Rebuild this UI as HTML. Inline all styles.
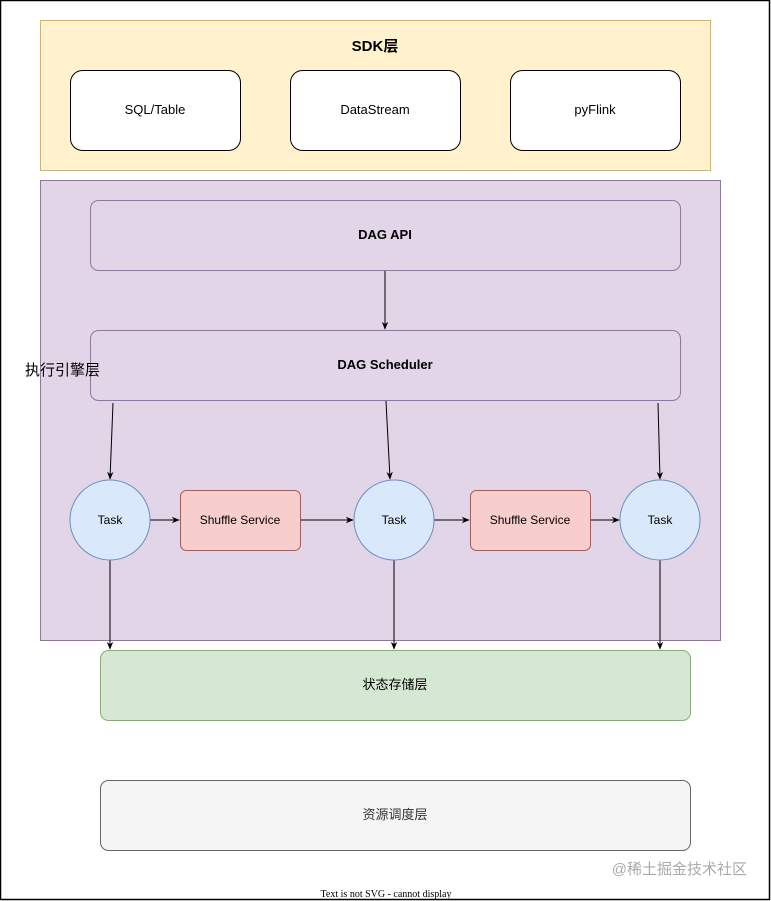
<!DOCTYPE html>
<html><head><style>body{margin:0;background:#fff}svg{display:block}text{font-family:"Liberation Sans","Noto Sans CJK SC",sans-serif}</style></head><body>
<svg width="771" height="901" viewBox="0 0 771 901" xmlns="http://www.w3.org/2000/svg">
<defs><marker id="a" viewBox="0 0 10 10" refX="9" refY="5" markerWidth="8" markerHeight="8" orient="auto"><path d="M0,1 L10,5 L0,9 L3,5z" fill="#000"/></marker></defs>
<rect x="0.5" y="0.5" width="769" height="899" fill="#fff" stroke="#000" stroke-width="1.5"/>
<rect x="40.5" y="20.5" width="670" height="150" fill="#fff2cc" stroke="#d6b656"/>
<text x="375" y="51" font-size="15" font-weight="bold" text-anchor="middle">SDK层</text>
<g fill="#fff" stroke="#000"><rect x="70.5" y="70.5" width="170" height="80" rx="12"/><rect x="290.5" y="70.5" width="170" height="80" rx="12"/><rect x="510.5" y="70.5" width="170" height="80" rx="12"/></g>
<g font-size="13" text-anchor="middle"><text x="155" y="114">SQL/Table</text><text x="375" y="114">DataStream</text><text x="595" y="114">pyFlink</text></g>
<rect x="40.5" y="180.5" width="680" height="460" fill="#e1d5e7" stroke="#9673a6"/>
<rect x="90.5" y="200.5" width="590" height="70" rx="8" fill="#e1d5e7" stroke="#9673a6"/>
<text x="385" y="239" font-size="13" font-weight="bold" text-anchor="middle">DAG API</text>
<rect x="90.5" y="330.5" width="590" height="70" rx="8" fill="#e1d5e7" stroke="#9673a6"/>
<text x="385" y="369" font-size="13" font-weight="bold" text-anchor="middle">DAG Scheduler</text>
<text x="25" y="375" font-size="15">执行引擎层</text>
<g stroke="#000" fill="none" marker-end="url(#a)">
<line x1="385" y1="271" x2="385" y2="329"/>
<line x1="113" y1="403" x2="110" y2="479"/>
<line x1="386" y1="401" x2="390" y2="479"/>
<line x1="658" y1="403" x2="660" y2="479"/>
<line x1="150" y1="520" x2="179" y2="520"/>
<line x1="300" y1="520" x2="353" y2="520"/>
<line x1="434" y1="520" x2="469" y2="520"/>
<line x1="590" y1="520" x2="619" y2="520"/>
<line x1="110" y1="560" x2="110" y2="649"/>
<line x1="394" y1="560" x2="394" y2="649"/>
<line x1="660" y1="560" x2="660" y2="649"/>
</g>
<g fill="#dae8fc" stroke="#6c8ebf"><circle cx="110" cy="520" r="40"/><circle cx="394" cy="520" r="40"/><circle cx="660" cy="520" r="40"/></g>
<g fill="#f8cecc" stroke="#b85450"><rect x="180.5" y="490.5" width="120" height="60" rx="6"/><rect x="470.5" y="490.5" width="120" height="60" rx="6"/></g>
<g font-size="12" text-anchor="middle"><text x="110" y="524">Task</text><text x="394" y="524">Task</text><text x="660" y="524">Task</text><text x="240" y="524">Shuffle Service</text><text x="530" y="524">Shuffle Service</text></g>
<rect x="100.5" y="650.5" width="590" height="70" rx="8" fill="#d5e8d4" stroke="#82b366"/>
<text x="395" y="689" font-size="13" text-anchor="middle">状态存储层</text>
<rect x="100.5" y="780.5" width="590" height="70" rx="8" fill="#f5f5f5" stroke="#666"/>
<text x="395" y="819" font-size="13" fill="#333" text-anchor="middle">资源调度层</text>
<text x="747" y="874" font-size="15" fill="#aaa" text-anchor="end">@稀土掘金技术社区</text>
<text x="386" y="897" font-size="10" style="font-family:'Liberation Serif',serif" text-anchor="middle">Text is not SVG - cannot display</text>
</svg>
</body></html>
